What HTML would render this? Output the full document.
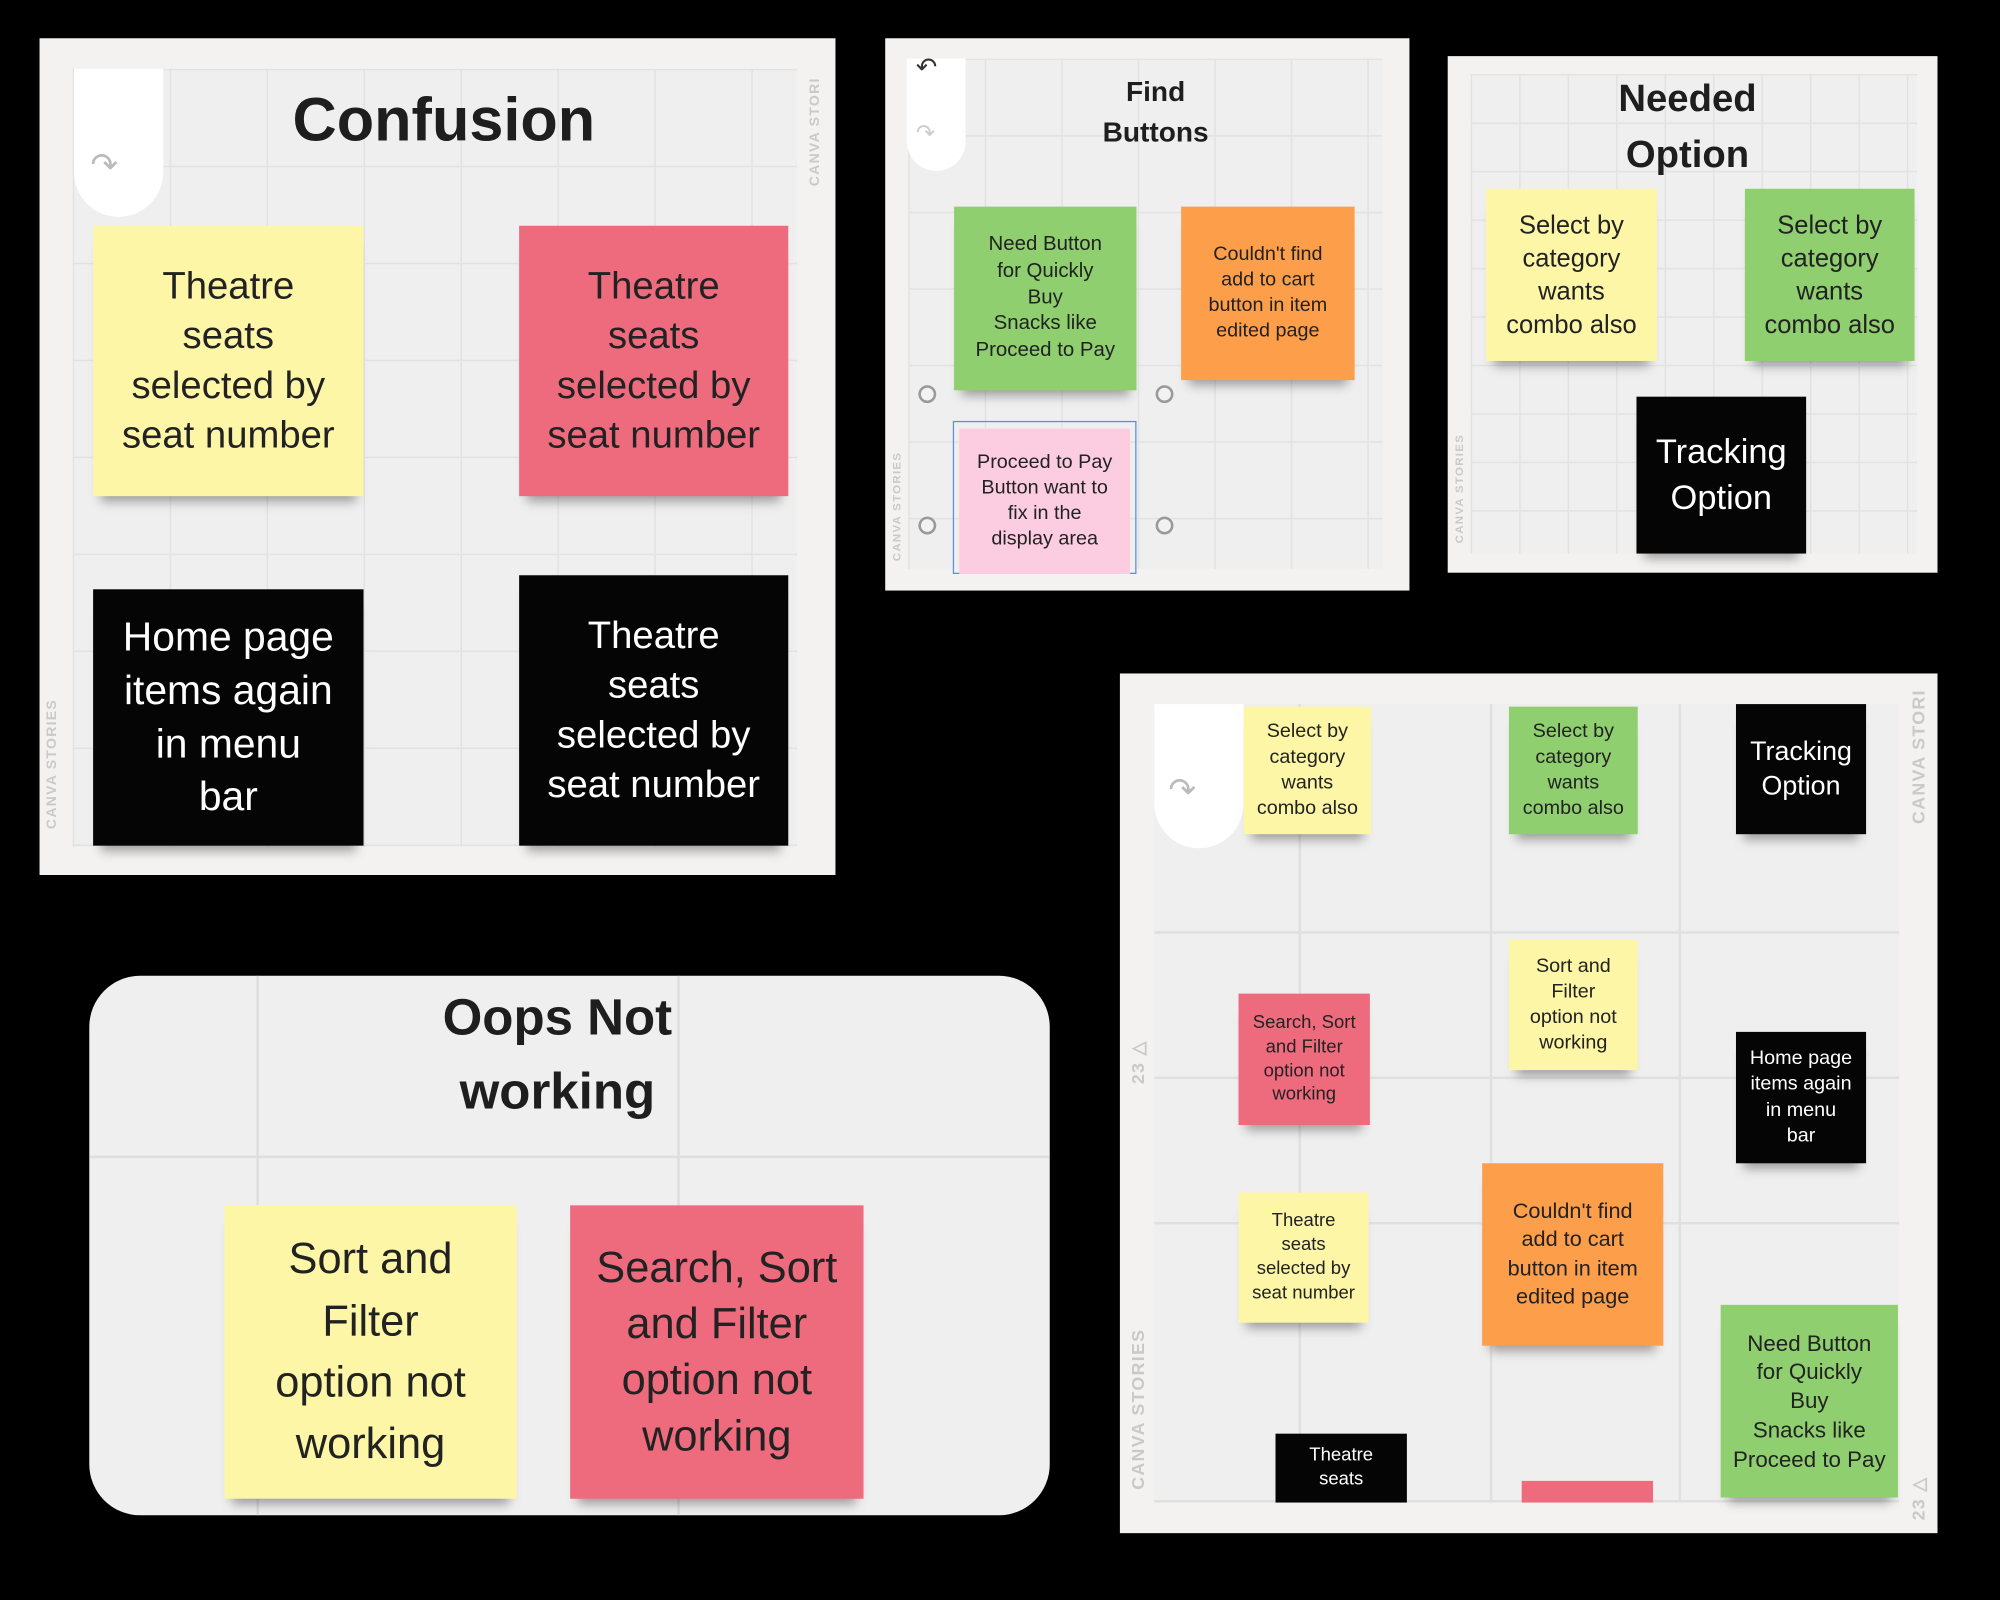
<!DOCTYPE html>
<html><head><meta charset="utf-8">
<style>
html,body{margin:0;padding:0;background:#000;width:2000px;height:1600px;overflow:hidden}
#w{position:absolute;left:0;top:0;width:1568px;height:1254px;transform:scale(1.27551);transform-origin:0 0;font-family:"Liberation Sans",sans-serif}
.p{position:absolute;background:#f3f2f0;overflow:hidden}
.in{position:absolute;background-color:#efefef;
background-image:linear-gradient(#e2e2e2 1px,transparent 1px),linear-gradient(90deg,#e2e2e2 1px,transparent 1px);}
.n{position:absolute;display:flex;align-items:center;justify-content:center;text-align:center;color:#222;box-shadow:0 10px 8px -6px rgba(0,0,0,.35);line-height:1.3}
.y{background:#fcf6a6}.r{background:#ee6b7e}.g{background:#8fcf70}.o{background:#fd9e4a}.k{background:#050505;color:#fff}.pk{background:#fccde0}
.t{position:absolute;text-align:center;font-weight:bold;color:#1e1e1e;line-height:1.3}
.side{position:absolute;color:#c9c9c9;font-size:11px;font-weight:bold;letter-spacing:1px;transform:rotate(-90deg);transform-origin:0 0;white-space:nowrap}
.tab{position:absolute;background:#fff;border-radius:0 0 40px 40px}
.c{position:absolute;width:10px;height:10px;border:2px solid #999;border-radius:50%;background:#f2f2f2}
</style></head><body><div id="w">

<!-- Panel 1 -->
<div class="p" style="left:31px;top:30px;width:624px;height:656px">
 <div class="in" style="left:26px;top:24px;width:568px;height:610px;background-size:76px 76px"></div>
 <div class="tab" style="left:27px;top:24px;width:70px;height:116px"></div>
 <div style="position:absolute;left:40px;top:84px;font-size:26px;color:#bbb">↷</div>
 <div class="t" style="left:100px;top:34px;width:434px;font-size:48px">Confusion</div>
 <div class="n y" style="left:42px;top:147px;width:212px;height:212px;font-size:30px">Theatre<br>seats<br>selected by<br>seat number</div>
 <div class="n r" style="left:376px;top:147px;width:211px;height:212px;font-size:30px">Theatre<br>seats<br>selected by<br>seat number</div>
 <div class="n k" style="left:42px;top:432px;width:212px;height:201px;font-size:32px">Home page<br>items again<br>in menu<br>bar</div>
 <div class="n k" style="left:376px;top:421px;width:211px;height:212px;font-size:30px">Theatre<br>seats<br>selected by<br>seat number</div>
 <div class="side" style="left:4px;top:620px">CANVA STORIES</div>
 <div class="side" style="left:602px;top:116px">CANVA STORI</div>
</div>

<!-- Panel 2 -->
<div class="p" style="left:694px;top:30px;width:411px;height:433px">
 <div class="in" style="left:18px;top:16px;width:372px;height:400px;background-size:60px 60px"></div>
 <div class="tab" style="left:17px;top:16px;width:46px;height:88px;border-radius:0 0 24px 24px"></div>
 <div style="position:absolute;left:24px;top:10px;font-size:20px;color:#333">↶</div>
 <div style="position:absolute;left:24px;top:64px;font-size:18px;color:#ccc">↷</div>
 <div class="t" style="left:112px;top:26px;width:200px;font-size:22px;line-height:32px">Find<br>Buttons</div>
 <div class="n g" style="left:54px;top:132px;width:143px;height:144px;font-size:16px">Need Button<br>for Quickly<br>Buy<br>Snacks like<br>Proceed to Pay</div>
 <div class="n o" style="left:232px;top:132px;width:136px;height:136px;font-size:15.5px">Couldn't find<br>add to cart<br>button in item<br>edited page</div>
 <div style="position:absolute;left:53px;top:300px;width:144px;height:120px;border:1px solid #5b8fe0;box-sizing:border-box"></div>
 <div class="n pk" style="left:58px;top:306px;width:134px;height:114px;font-size:15.5px;box-shadow:none">Proceed to Pay<br>Button want to<br>fix in the<br>display area</div>
 <div class="c" style="left:26px;top:272px"></div><div class="c" style="left:212px;top:272px"></div>
 <div class="c" style="left:26px;top:375px"></div><div class="c" style="left:212px;top:375px"></div>
 <div class="side" style="left:4px;top:410px;font-size:9px">CANVA STORIES</div>
</div>

<!-- Panel 3 -->
<div class="p" style="left:1135px;top:44px;width:384px;height:405px">
 <div class="in" style="left:18px;top:14px;width:350px;height:376px;background-size:38px 38px"></div>
 <div class="t" style="left:88px;top:12px;width:200px;font-size:30px;line-height:44px">Needed<br>Option</div>
 <div class="n y" style="left:30px;top:104px;width:134px;height:135px;font-size:20px">Select by<br>category<br>wants<br>combo also</div>
 <div class="n g" style="left:233px;top:104px;width:133px;height:135px;font-size:20px">Select by<br>category<br>wants<br>combo also</div>
 <div class="n k" style="left:148px;top:267px;width:133px;height:123px;font-size:27px">Tracking<br>Option</div>
 <div class="side" style="left:4px;top:382px;font-size:9px">CANVA STORIES</div>
</div>

<!-- Panel 4 -->
<div class="p" style="left:70px;top:765px;width:753px;height:423px;border-radius:40px;background:#efefef">
 <div style="position:absolute;left:0;top:141px;width:753px;height:2px;background:#dedede"></div>
 <div style="position:absolute;left:131px;top:0;width:2px;height:423px;background:#dedede"></div>
 <div style="position:absolute;left:461px;top:0;width:2px;height:423px;background:#dedede"></div>
 <div class="t" style="left:217px;top:4px;width:300px;font-size:40px;line-height:58px">Oops Not<br>working</div>
 <div class="n y" style="left:106px;top:180px;width:229px;height:230px;font-size:34px;line-height:1.42">Sort and<br>Filter<br>option not<br>working</div>
 <div class="n r" style="left:377px;top:180px;width:230px;height:230px;font-size:34px">Search, Sort<br>and Filter<br>option not<br>working</div>
</div>

<!-- Panel 5 -->
<div class="p" style="left:878px;top:528px;width:641px;height:674px">
 <div class="in" style="left:27px;top:24px;width:584px;height:626px;background:#efefef"></div>
 <div style="position:absolute;left:27px;top:202px;width:584px;height:2px;background:#e0e0e0"></div>
 <div style="position:absolute;left:27px;top:316px;width:584px;height:2px;background:#e0e0e0"></div>
 <div style="position:absolute;left:27px;top:430px;width:584px;height:2px;background:#e0e0e0"></div>
 <div style="position:absolute;left:27px;top:648px;width:584px;height:2px;background:#e0e0e0"></div>
 <div style="position:absolute;left:140px;top:24px;width:2px;height:626px;background:#e0e0e0"></div>
 <div style="position:absolute;left:290px;top:24px;width:2px;height:626px;background:#e0e0e0"></div>
 <div style="position:absolute;left:438px;top:24px;width:2px;height:626px;background:#e0e0e0"></div>
 <div style="position:absolute;left:27px;top:24px;width:70px;height:113px;background:#fff;border-radius:0 0 40px 40px"></div>
 <div style="position:absolute;left:38px;top:76px;font-size:26px;color:#bbb">↷</div>
 <div class="n y" style="left:97px;top:26px;width:100px;height:100px;font-size:15.5px">Select by<br>category<br>wants<br>combo also</div>
 <div class="n g" style="left:305px;top:26px;width:101px;height:100px;font-size:15.5px">Select by<br>category<br>wants<br>combo also</div>
 <div class="n k" style="left:483px;top:24px;width:102px;height:102px;font-size:21px">Tracking<br>Option</div>
 <div class="n r" style="left:93px;top:251px;width:103px;height:103px;font-size:14.5px">Search, Sort<br>and Filter<br>option not<br>working</div>
 <div class="n y" style="left:305px;top:209px;width:101px;height:102px;font-size:15.5px">Sort and<br>Filter<br>option not<br>working</div>
 <div class="n k" style="left:483px;top:281px;width:102px;height:103px;font-size:15.5px">Home page<br>items again<br>in menu<br>bar</div>
 <div class="n y" style="left:93px;top:407px;width:102px;height:102px;font-size:14.5px">Theatre<br>seats<br>selected by<br>seat number</div>
 <div class="n o" style="left:284px;top:384px;width:142px;height:143px;font-size:17px">Couldn't find<br>add to cart<br>button in item<br>edited page</div>
 <div class="n g" style="left:471px;top:495px;width:139px;height:151px;font-size:17.5px">Need Button<br>for Quickly<br>Buy<br>Snacks like<br>Proceed to Pay</div>
 <div class="n k" style="left:122px;top:596px;width:103px;height:54px;font-size:14.5px;align-items:flex-start;padding-top:8px;box-sizing:border-box;overflow:hidden;box-shadow:none">Theatre<br>seats</div>
 <div class="n r" style="left:315px;top:633px;width:103px;height:17px;box-shadow:none"></div>
 <div class="side" style="left:6px;top:640px;font-size:14px">CANVA STORIES</div>
 <div class="side" style="left:618px;top:118px;font-size:14px">CANVA STORI</div>
 <div class="side" style="left:6px;top:322px;font-size:14px">23 △</div>
 <div class="side" style="left:618px;top:664px;font-size:14px">23 △</div>
</div>

</div></body></html>
